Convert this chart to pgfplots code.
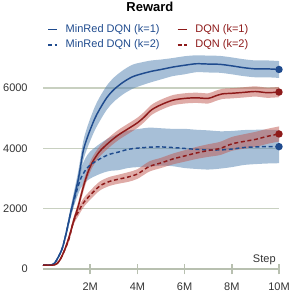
\documentclass[border=0pt]{standalone}
\usepackage{pgfplots}
\usepackage{pgfplotstable}
\pgfplotsset{compat=1.18}
\usepgfplotslibrary{fillbetween}
\usepackage{fontspec}
\setmainfont{Liberation Sans}
\definecolor{bline}{HTML}{1F4B8E}
\definecolor{rline}{HTML}{8E1A1A}
\definecolor{bband}{HTML}{5080B0}
\definecolor{rband}{HTML}{C05850}
\definecolor{gridc}{HTML}{C8D0C0}
\definecolor{axc}{HTML}{B8C0B0}
\definecolor{txt}{HTML}{333333}

% MinRed DQN (k=1)
\pgfplotstableread{
x m lo hi
0 130 110 150
0.3 135 115 155
0.5 200 170 230
0.8 650 580 720
1.0 1250 1130 1370
1.15 1800 1630 1970
1.3 2300 2080 2520
1.5 3000 2720 3280
1.7 3900 3580 4220
1.85 4300 3950 4650
2.0 4620 4250 4990
2.2 5000 4610 5390
2.4 5300 4900 5700
2.7 5680 5280 6080
3.0 5950 5550 6350
3.4 6200 5800 6600
3.8 6380 5980 6780
4.2 6480 6100 6860
4.6 6560 6200 6920
5.0 6620 6290 6950
5.5 6700 6400 7000
6.0 6760 6460 7060
6.5 6810 6530 7090
7.0 6800 6520 7080
7.5 6790 6510 7070
8.0 6740 6460 7020
8.5 6680 6400 6960
9.0 6640 6360 6920
9.5 6640 6360 6920
10 6620 6340 6900
}\tBa
% MinRed DQN (k=2)
\pgfplotstableread{
x m lo hi
0 130 110 150
0.3 135 115 155
0.5 200 170 230
0.8 650 580 720
1.0 1250 1130 1370
1.15 1780 1680 1880
1.3 2250 2070 2430
1.45 2650 2400 2900
1.6 3000 2680 3320
1.8 3280 2880 3680
2.0 3450 3000 3900
2.4 3650 3150 4150
2.8 3800 3250 4350
3.2 3880 3280 4480
3.6 3970 3350 4590
4.0 4010 3380 4640
4.5 4040 3390 4690
5.0 4050 3430 4670
5.5 4030 3410 4650
6.0 4000 3350 4650
6.5 3970 3320 4620
7.0 3950 3300 4600
7.5 3950 3330 4570
8.0 3980 3380 4580
8.5 4030 3450 4610
9.0 4050 3480 4620
9.5 4060 3500 4620
10 4060 3510 4610
}\tBb
% DQN (k=1)
\pgfplotstableread{
x m lo hi
0 130 110 150
0.5 140 115 165
0.7 280 240 320
0.9 600 540 660
1.1 1050 960 1140
1.3 1600 1480 1720
1.5 2100 1960 2240
1.7 2700 2540 2860
1.9 3200 3030 3370
2.1 3550 3380 3720
2.4 3900 3730 4070
2.8 4200 4030 4370
3.2 4450 4280 4620
3.6 4650 4480 4820
4.0 4850 4680 5020
4.3 5050 4880 5220
4.6 5280 5110 5450
5.0 5450 5280 5620
5.5 5600 5430 5770
6.0 5660 5490 5830
6.5 5680 5510 5850
7.0 5660 5490 5830
7.3 5740 5570 5910
7.6 5810 5640 5980
8.0 5830 5660 6000
8.5 5860 5690 6030
9.0 5890 5720 6060
9.5 5850 5680 6020
10 5870 5700 6040
}\tRa
% DQN (k=2)
\pgfplotstableread{
x m lo hi
0 130 110 150
0.5 140 115 165
0.7 280 240 320
0.9 600 540 660
1.1 1000 910 1090
1.3 1600 1480 1720
1.5 1900 1760 2040
1.7 2180 2030 2330
2.0 2450 2300 2600
2.4 2750 2600 2900
2.8 2900 2750 3050
3.2 2980 2830 3130
3.6 3050 2890 3210
4.0 3150 2990 3310
4.5 3400 3230 3570
5.0 3520 3350 3690
5.5 3650 3470 3830
6.0 3750 3560 3940
6.5 3850 3650 4050
7.0 3930 3720 4140
7.5 4000 3780 4220
8.0 4150 3920 4380
8.5 4230 3990 4470
9.0 4300 4050 4550
9.5 4400 4150 4650
10 4480 4230 4730
}\tRb

\begin{document}
\begin{tikzpicture}
\begin{axis}[
  at={(32.25pt,23.25pt)}, anchor=south west,
  scale only axis, width=177pt, height=160.5pt,
  xmin=0, xmax=10, ymin=0, ymax=7100,
  clip=false,
  axis x line*=bottom, axis y line*=left,
  y axis line style={draw=none},
  x axis line style={axc, line width=1.1pt},
  xtick={2,4,6,8,10}, xticklabels={2M,4M,6M,8M,10M},
  ytick={0,2000,4000,6000}, yticklabels={0,2000,4000,6000},
  ymajorgrids, grid style={gridc, line width=1pt},
  xtick style={axc, line width=1.1pt}, xtick align=center,
  major tick length=8pt,
  ytick style={draw=none},
  /pgf/number format/assume math mode=true,
  ticklabel style={font=\fontsize{8.25}{10}\selectfont, text=txt},
  xticklabel style={yshift=-3pt},
  yticklabel style={anchor=east, xshift=-8pt},
  xlabel={Step},
  xlabel style={at={(axis description cs:1,0)}, anchor=base east, xshift=1pt, yshift=4.5pt, font=\fontsize{8.25}{10}\selectfont, text=txt},
  title={\textbf{Reward}},
  title style={at={(axis description cs:0.453,1.1636)}, anchor=base, font=\fontsize{9.75}{12}\selectfont},
  legend columns=2,
  legend style={at={(axis description cs:0.0,1.168)}, anchor=north west, draw=none, fill=none,
    font=\fontsize{8.25}{10}\selectfont, row sep=0pt,
    /tikz/every odd column/.append style={column sep=3.75pt},
    /tikz/every even column/.append style={column sep=11pt}},
  legend image code/.code={\draw[#1] (0pt,0pt) -- (7pt,0pt);},
  every axis plot/.append style={line width=1.1pt},
]
% bands
\addplot[name path=bah, draw=none, smooth, forget plot] table[x=x,y=hi]{\tBa};
\addplot[name path=bal, draw=none, smooth, forget plot] table[x=x,y=lo]{\tBa};
\addplot[bband, fill opacity=0.5, draw=none, forget plot] fill between[of=bah and bal];
\addplot[name path=bbh, draw=none, smooth, forget plot] table[x=x,y=hi]{\tBb};
\addplot[name path=bbl, draw=none, smooth, forget plot] table[x=x,y=lo]{\tBb};
\addplot[bband, fill opacity=0.5, draw=none, forget plot] fill between[of=bbh and bbl];
\addplot[name path=rah, draw=none, smooth, forget plot] table[x=x,y=hi]{\tRa};
\addplot[name path=ral, draw=none, smooth, forget plot] table[x=x,y=lo]{\tRa};
\addplot[rband, fill opacity=0.5, draw=none, forget plot] fill between[of=rah and ral];
\addplot[name path=rbh, draw=none, smooth, forget plot] table[x=x,y=hi]{\tRb};
\addplot[name path=rbl, draw=none, smooth, forget plot] table[x=x,y=lo]{\tRb};
\addplot[rband, fill opacity=0.5, draw=none, forget plot] fill between[of=rbh and rbl];
% lines
\addplot[bline, smooth, mark=none] table[x=x,y=m]{\tBa};
\addlegendentry{\textcolor{bline}{MinRed DQN (k=1)}}
\addplot[rline, smooth, mark=none] table[x=x,y=m]{\tRa};
\addlegendentry{\textcolor{rline}{DQN (k=1)}}
\addplot[bline, smooth, mark=none, dash pattern=on 3pt off 2pt] table[x=x,y=m]{\tBb};
\addlegendentry{\textcolor{bline}{MinRed DQN (k=2)}}
\addplot[rline, smooth, mark=none, dash pattern=on 3pt off 2pt] table[x=x,y=m]{\tRb};
\addlegendentry{\textcolor{rline}{DQN (k=2)}}
% end dots
\addplot[only marks, mark=*, mark size=2.2pt, bline, forget plot] coordinates {(10,6620)};
\addplot[only marks, mark=*, mark size=2.2pt, rline, forget plot] coordinates {(10,5870)};
\addplot[only marks, mark=*, mark size=2.2pt, bline, forget plot] coordinates {(10,4060)};
\addplot[only marks, mark=*, mark size=2.2pt, rline, forget plot] coordinates {(10,4480)};
\end{axis}
\pgfresetboundingbox
\useasboundingbox (0,0) rectangle (225pt,225pt);
\end{tikzpicture}
\end{document}
